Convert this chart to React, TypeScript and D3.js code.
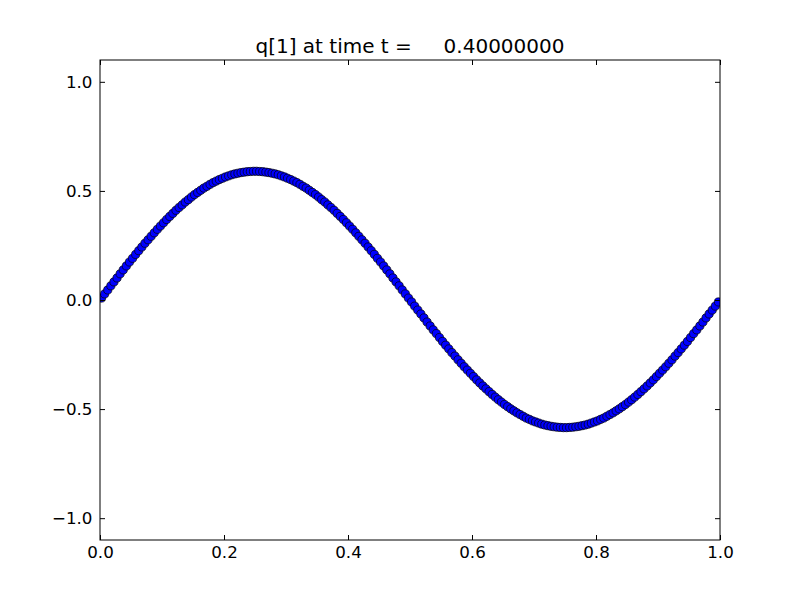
import React, { useEffect, useRef } from "react";
import * as d3 from "d3";

const titleText = "q[1] at time t =     0.40000000";
const xTicks = [0, 0.2, 0.4, 0.6, 0.8, 1.0];
const yTicks = [-1.0, -0.5, 0.0, 0.5, 1.0];

// q[1], one value per grid cell (200 cells on [0,1])
const qValues = [
  0.009, 0.028, 0.046, 0.065, 0.083, 0.101, 0.120, 0.138, 0.156, 0.174,
  0.191, 0.209, 0.226, 0.243, 0.260, 0.276, 0.292, 0.308, 0.324, 0.339,
  0.354, 0.369, 0.383, 0.397, 0.411, 0.424, 0.436, 0.449, 0.460, 0.472,
  0.483, 0.493, 0.503, 0.513, 0.521, 0.530, 0.538, 0.545, 0.552, 0.558,
  0.564, 0.569, 0.574, 0.578, 0.581, 0.584, 0.586, 0.588, 0.589, 0.590,
  0.590, 0.589, 0.588, 0.586, 0.584, 0.581, 0.578, 0.574, 0.569, 0.564,
  0.558, 0.552, 0.545, 0.538, 0.530, 0.521, 0.513, 0.503, 0.493, 0.483,
  0.472, 0.460, 0.449, 0.436, 0.424, 0.411, 0.397, 0.383, 0.369, 0.354,
  0.339, 0.324, 0.308, 0.292, 0.276, 0.260, 0.243, 0.226, 0.209, 0.191,
  0.174, 0.156, 0.138, 0.120, 0.101, 0.083, 0.065, 0.046, 0.028, 0.009,
  -0.009, -0.028, -0.046, -0.064, -0.082, -0.101, -0.119, -0.137, -0.154, -0.172,
  -0.190, -0.207, -0.224, -0.241, -0.257, -0.274, -0.290, -0.306, -0.321, -0.336,
  -0.351, -0.366, -0.380, -0.394, -0.407, -0.420, -0.433, -0.445, -0.457, -0.468,
  -0.479, -0.489, -0.499, -0.508, -0.517, -0.525, -0.533, -0.541, -0.547, -0.554,
  -0.559, -0.564, -0.569, -0.573, -0.576, -0.579, -0.581, -0.583, -0.584, -0.585,
  -0.585, -0.584, -0.583, -0.581, -0.579, -0.576, -0.573, -0.569, -0.564, -0.559,
  -0.554, -0.547, -0.541, -0.533, -0.525, -0.517, -0.508, -0.499, -0.489, -0.479,
  -0.468, -0.457, -0.445, -0.433, -0.420, -0.407, -0.394, -0.380, -0.366, -0.351,
  -0.336, -0.321, -0.306, -0.290, -0.274, -0.257, -0.241, -0.224, -0.207, -0.190,
  -0.172, -0.154, -0.137, -0.119, -0.101, -0.082, -0.064, -0.046, -0.028, -0.009,
];

const App = () => {
  const svgRef = useRef<SVGSVGElement>(null);

  useEffect(() => {
    const svg = d3.select(svgRef.current);
    svg.selectAll("*").remove();

    const width = 800;
    const height = 600;
    const margin = { top: 60, right: 80, bottom: 60, left: 100 };
    const font = "DejaVu Sans, sans-serif";

    svg.attr("width", width).attr("height", height);
    svg.append("rect").attr("width", width).attr("height", height).attr("fill", "#fff");

    const x = d3.scaleLinear().domain([0, 1]).range([margin.left, width - margin.right]);
    const y = d3.scaleLinear().domain([-1.1, 1.1]).range([height - margin.bottom, margin.top]);

    const nCells = qValues.length;
    const points = qValues.map((q, i) => ({ x: (i + 0.5) / nCells, q }));

    svg.append("clipPath").attr("id", "plot-clip")
      .append("rect")
      .attr("x", margin.left)
      .attr("y", margin.top)
      .attr("width", width - margin.left - margin.right)
      .attr("height", height - margin.top - margin.bottom);

    svg.append("g")
      .attr("clip-path", "url(#plot-clip)")
      .selectAll("circle")
      .data(points)
      .enter()
      .append("circle")
      .attr("cx", d => x(d.x))
      .attr("cy", d => y(d.q))
      .attr("r", 4.1)
      .attr("fill", "#0000ff")
      .attr("stroke", "#000")
      .attr("stroke-width", 0.7);

    const fmt = d3.format(".1f");
    const tickLen = 5;

    const styleAxis = (g: any) => {
      g.select(".domain").remove();
      g.selectAll("line").attr("stroke", "#000").attr("stroke-width", 1);
      g.selectAll("text").attr("font-family", font).attr("font-size", 16.7).attr("fill", "#000");
    };

    svg.append("g")
      .attr("transform", `translate(0,${height - margin.bottom})`)
      .call(d3.axisBottom(x).tickValues(xTicks).tickFormat(d => fmt(d as number)).tickSize(-tickLen).tickPadding(6))
      .call(styleAxis);

    svg.append("g")
      .attr("transform", `translate(0,${margin.top})`)
      .call(d3.axisTop(x).tickValues(xTicks).tickFormat(() => "").tickSize(-tickLen))
      .call(styleAxis);

    svg.append("g")
      .attr("transform", `translate(${margin.left},0)`)
      .call(d3.axisLeft(y).tickValues(yTicks).tickFormat(d => fmt(d as number)).tickSize(-tickLen).tickPadding(7.5))
      .call(styleAxis);

    svg.append("g")
      .attr("transform", `translate(${width - margin.right},0)`)
      .call(d3.axisRight(y).tickValues(yTicks).tickFormat(() => "").tickSize(-tickLen))
      .call(styleAxis);

    svg.append("rect")
      .attr("x", margin.left)
      .attr("y", margin.top)
      .attr("width", width - margin.left - margin.right)
      .attr("height", height - margin.top - margin.bottom)
      .attr("fill", "none")
      .attr("stroke", "#000")
      .attr("stroke-width", 1);

    svg.append("text")
      .attr("x", (margin.left + width - margin.right) / 2)
      .attr("y", 53)
      .attr("text-anchor", "middle")
      .attr("font-family", font)
      .attr("font-size", 20)
      .style("white-space", "pre")
      .text(titleText);
  }, []);

  return <svg ref={svgRef} style={{ position: "absolute", left: 0, top: 0 }}></svg>;
};

export default App;
